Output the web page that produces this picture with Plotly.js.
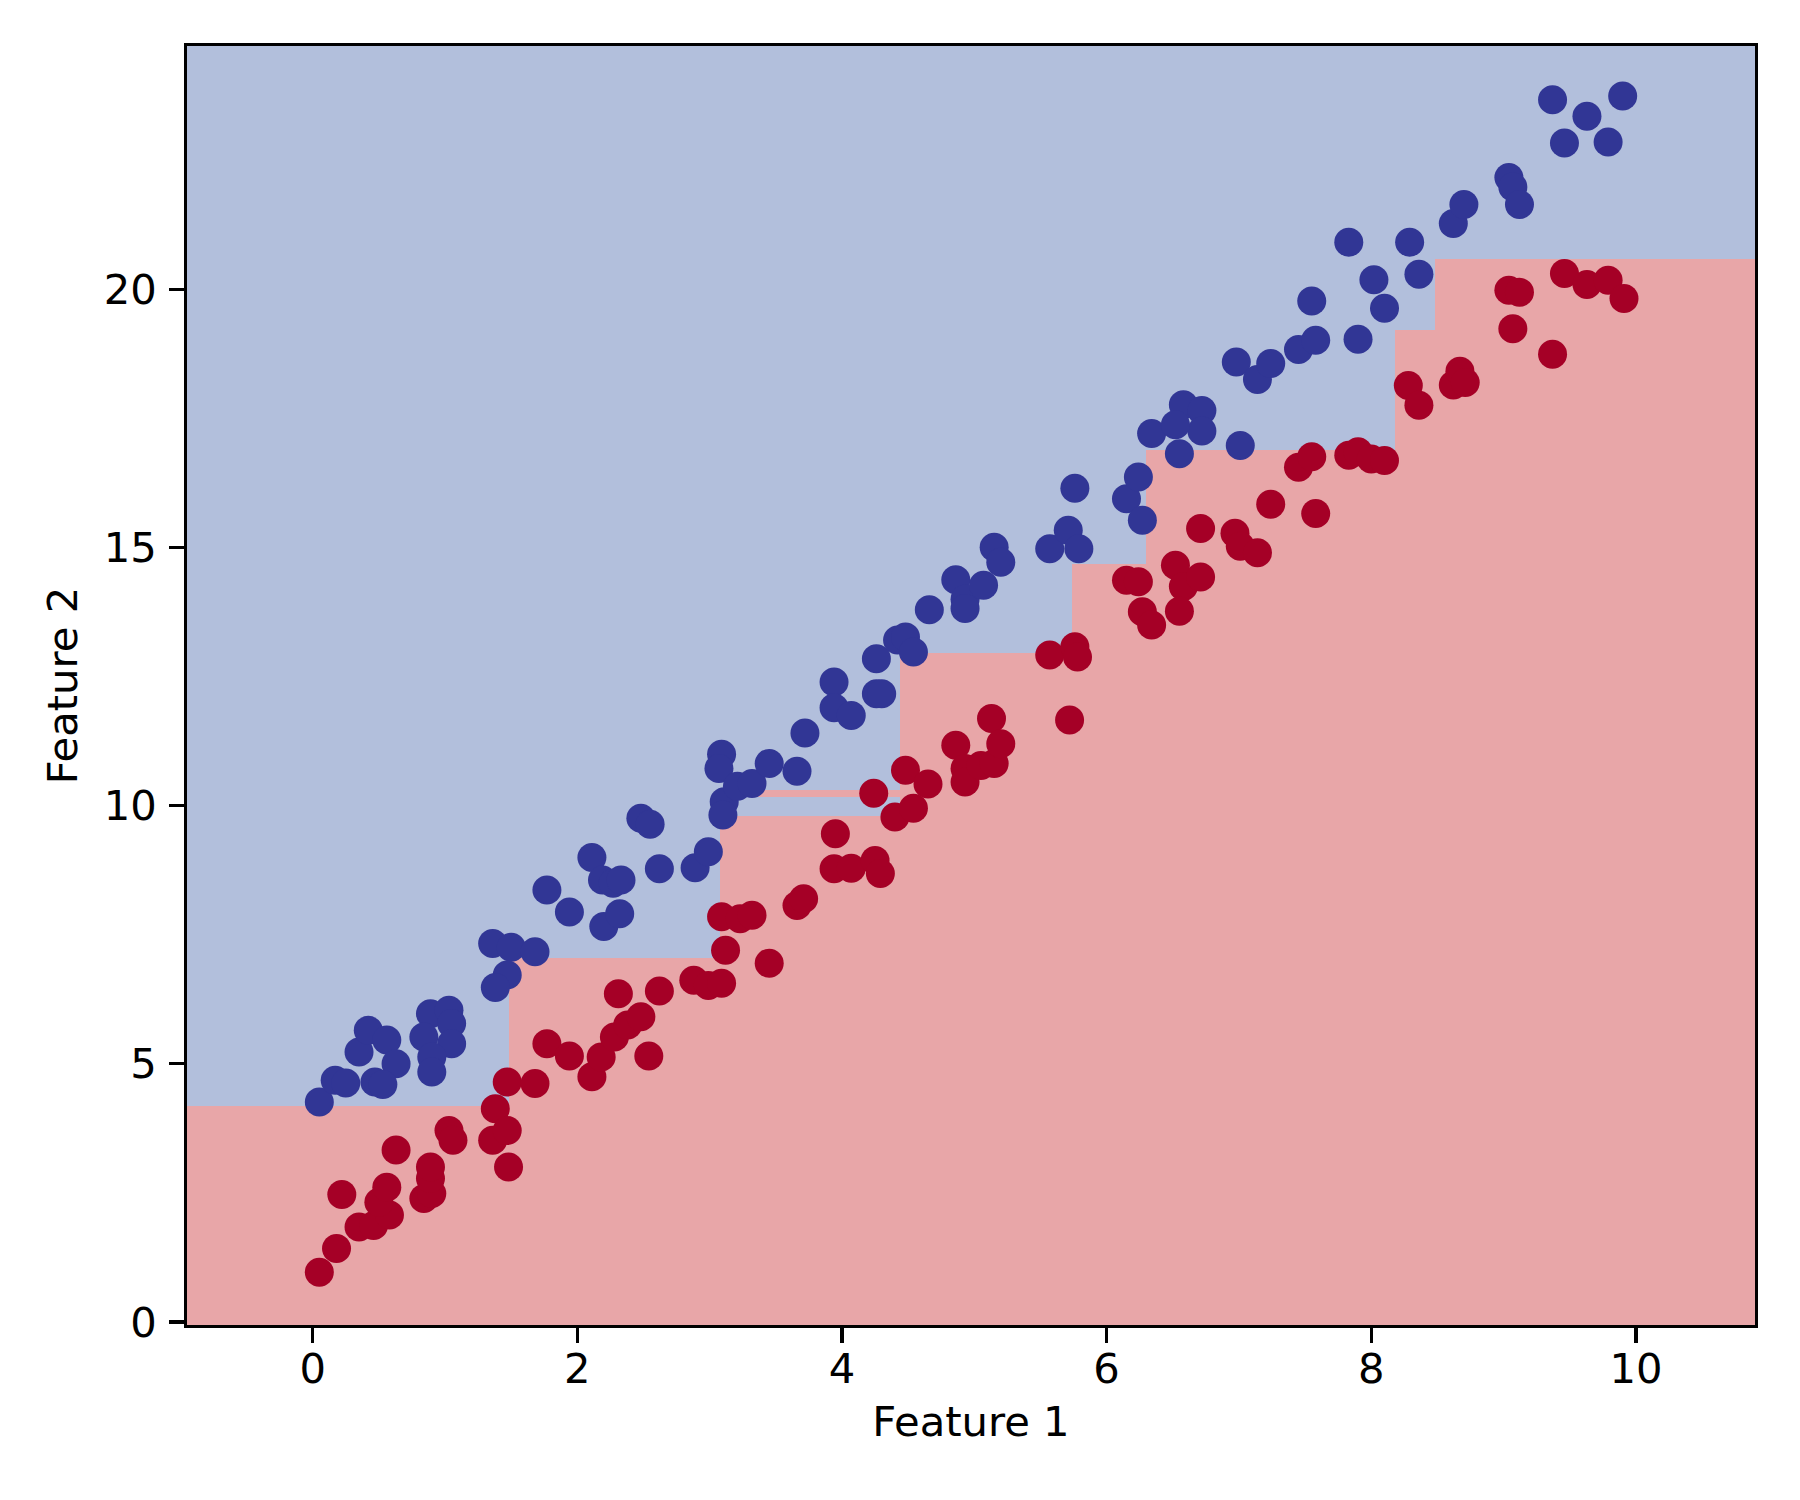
<!DOCTYPE html>
<html>
<head>
<meta charset="utf-8">
<script src="https://cdn.plot.ly/plotly-3.0.1.min.js"></script>
<style>html,body{margin:0;padding:0;background:#fff;}#chart{width:1800px;height:1500px;}</style>
</head>
<body>
<div id="chart"></div>
<script>
// Decision regions (tree leaves): x split edges, y split edges, class per cell (0 = class 0 / red, 1 = class 1 / blue)
const regionXEdges = [-0.95, 1.48, 3.08, 3.36, 4.44, 5.74, 6.30, 8.18, 8.48, 10.9];
const regionYEdges = [-0.06, 4.18, 7.06, 9.80, 10.17, 10.31, 12.96, 14.68, 16.89, 19.21, 20.60, 24.72];
const regionClass = [
  [0,0,0,0,0,0,0,0,0],
  [1,0,0,0,0,0,0,0,0],
  [1,1,0,0,0,0,0,0,0],
  [1,1,1,1,0,0,0,0,0],
  [1,1,1,0,0,0,0,0,0],
  [1,1,1,1,0,0,0,0,0],
  [1,1,1,1,1,0,0,0,0],
  [1,1,1,1,1,1,0,0,0],
  [1,1,1,1,1,1,1,0,0],
  [1,1,1,1,1,1,1,1,0],
  [1,1,1,1,1,1,1,1,1]
];

// Class 0 (red) samples
const class0X = [0.05,0.18,0.22,0.35,0.46,0.58,0.50,0.56,0.63,0.84,0.90,0.89,0.89,1.03,1.06,1.38,1.36,1.47,1.48,1.47,
  1.68,1.77,1.94,2.11,2.18,2.28,2.38,2.48,2.31,2.54,
  2.62,2.88,2.99,3.09,3.12,3.09,3.23,3.32,3.45,3.66,
  3.71,3.95,3.94,4.07,4.25,4.29,4.24,4.40,4.54,4.48,
  4.65,4.86,4.93,4.93,5.05,5.15,5.13,5.20,5.72,5.57,
  5.76,5.78,6.15,6.24,6.27,6.34,6.52,6.58,6.71,6.55,
  6.71,6.97,7.01,7.14,7.24,7.58,7.45,7.55,7.83,7.90,
  8.00,8.10,8.28,8.36,8.62,8.67,8.71,9.04,9.12,9.07,
  9.37,9.46,9.63,9.79,9.91];
const class0Y = [0.96,1.42,2.47,1.84,1.87,2.07,2.32,2.61,3.33,2.39,2.49,2.78,3.00,3.71,3.52,4.13,3.52,3.71,3.00,4.65,
  4.62,5.39,5.15,4.75,5.13,5.52,5.75,5.91,6.36,5.15,
  6.41,6.62,6.52,6.56,7.20,7.85,7.81,7.88,6.95,8.07,
  8.20,9.46,8.78,8.79,8.94,8.69,10.24,9.78,9.95,10.69,
  10.42,11.17,10.72,10.46,10.78,10.82,11.69,11.20,11.66,12.92,
  13.08,12.88,14.37,14.34,13.76,13.50,14.66,14.25,14.43,13.77,
  15.37,15.28,15.03,14.90,15.84,15.66,16.56,16.76,16.79,16.86,
  16.72,16.69,18.14,17.76,18.15,18.42,18.20,19.99,19.95,19.24,
  18.75,20.31,20.10,20.18,19.83];

// Class 1 (blue) samples
const class1X = [0.05,0.17,0.25,0.35,0.42,0.56,0.63,0.47,0.53,0.89,1.03,1.05,0.84,1.05,0.90,0.90,1.36,1.50,1.68,1.47,1.38,
  1.77,1.94,2.20,2.32,2.11,2.19,2.27,2.33,2.48,2.55,
  2.62,2.89,2.99,3.09,3.07,3.11,3.10,3.21,3.32,3.45,
  3.66,3.72,3.94,3.94,4.07,4.26,4.26,4.30,4.42,4.48,
  4.54,4.66,4.86,4.93,4.93,5.07,5.15,5.20,5.57,5.71,
  5.79,5.76,6.15,6.24,6.27,6.34,6.58,6.72,6.72,6.52,
  6.55,7.01,6.98,7.14,7.24,7.45,7.58,7.55,7.90,7.83,
  8.02,8.10,8.29,8.36,8.62,8.70,9.04,9.07,9.12,9.37,
  9.90,9.63,9.46,9.79];
const class1Y = [4.26,4.68,4.63,5.23,5.65,5.46,5.00,4.65,4.60,5.97,6.04,5.78,5.52,5.39,5.13,4.84,7.33,7.26,7.17,6.72,6.48,
  8.37,7.94,7.66,7.91,9.00,8.56,8.50,8.56,9.76,9.64,
  8.78,8.80,9.11,11.00,10.72,10.08,9.82,10.38,10.43,10.82,
  10.67,11.41,12.40,11.90,11.75,12.85,12.17,12.17,13.21,13.27,
  12.98,13.80,14.38,14.00,13.82,14.27,15.01,14.72,14.98,15.34,
  14.98,16.15,15.95,16.37,15.53,17.21,17.77,17.66,17.26,17.38,
  16.82,16.98,18.60,18.26,18.57,18.84,19.02,19.78,19.04,20.92,
  20.19,19.64,20.92,20.30,21.28,21.65,22.17,21.99,21.65,23.68,
  23.75,23.36,22.84,22.86];

const xTicks = [0, 2, 4, 6, 8, 10];
const yTicks = [0, 5, 10, 15, 20];

const RED_BG = '#e8a6a8';
const BLUE_BG = '#b2bfdc';
const RED_PT = '#a50026';
const BLUE_PT = '#313695';

const traces = [
  {
    type: 'heatmap',
    x: regionXEdges,
    y: regionYEdges,
    z: regionClass,
    zmin: 0, zmax: 1,
    colorscale: [[0, RED_BG], [0.5, RED_BG], [0.5, BLUE_BG], [1, BLUE_BG]],
    showscale: false,
    hoverinfo: 'skip'
  },
  {
    type: 'scatter', mode: 'markers',
    x: class0X, y: class0Y,
    marker: {size: 29, color: RED_PT, line: {width: 0}},
    showlegend: false
  },
  {
    type: 'scatter', mode: 'markers',
    x: class1X, y: class1Y,
    marker: {size: 29, color: BLUE_PT, line: {width: 0}},
    showlegend: false
  }
];

const font = {family: 'DejaVu Sans, sans-serif', size: 41.7, color: '#000'};

const layout = {
  width: 1800, height: 1500,
  margin: {l: 187, r: 45, t: 46, b: 175},
  paper_bgcolor: '#fff', plot_bgcolor: '#fff',
  font: font,
  showlegend: false,
  xaxis: {
    range: [-0.95, 10.9], tickvals: xTicks, ticktext: xTicks.map(String),
    ticks: 'outside', ticklen: 14.6, tickwidth: 3.3, tickcolor: '#000',
    showline: true, linewidth: 3.3, linecolor: '#000', mirror: true,
    showgrid: false, zeroline: false, tickfont: font, automargin: false,
    ticklabelstandoff: -10,
    title: {text: 'Feature 1', font: font, standoff: 16}
  },
  yaxis: {
    range: [-0.06, 24.72], tickvals: yTicks, ticktext: yTicks.map(String),
    ticks: 'outside', ticklen: 14.6, tickwidth: 3.3, tickcolor: '#000',
    showline: true, linewidth: 3.3, linecolor: '#000', mirror: true,
    showgrid: false, zeroline: false, tickfont: font, automargin: false,
    ticklabelstandoff: 4,
    title: {text: 'Feature 2', font: font, standoff: 14}
  }
};

Plotly.newPlot('chart', traces, layout, {displayModeBar: false, staticPlot: true});
</script>
</body>
</html>
